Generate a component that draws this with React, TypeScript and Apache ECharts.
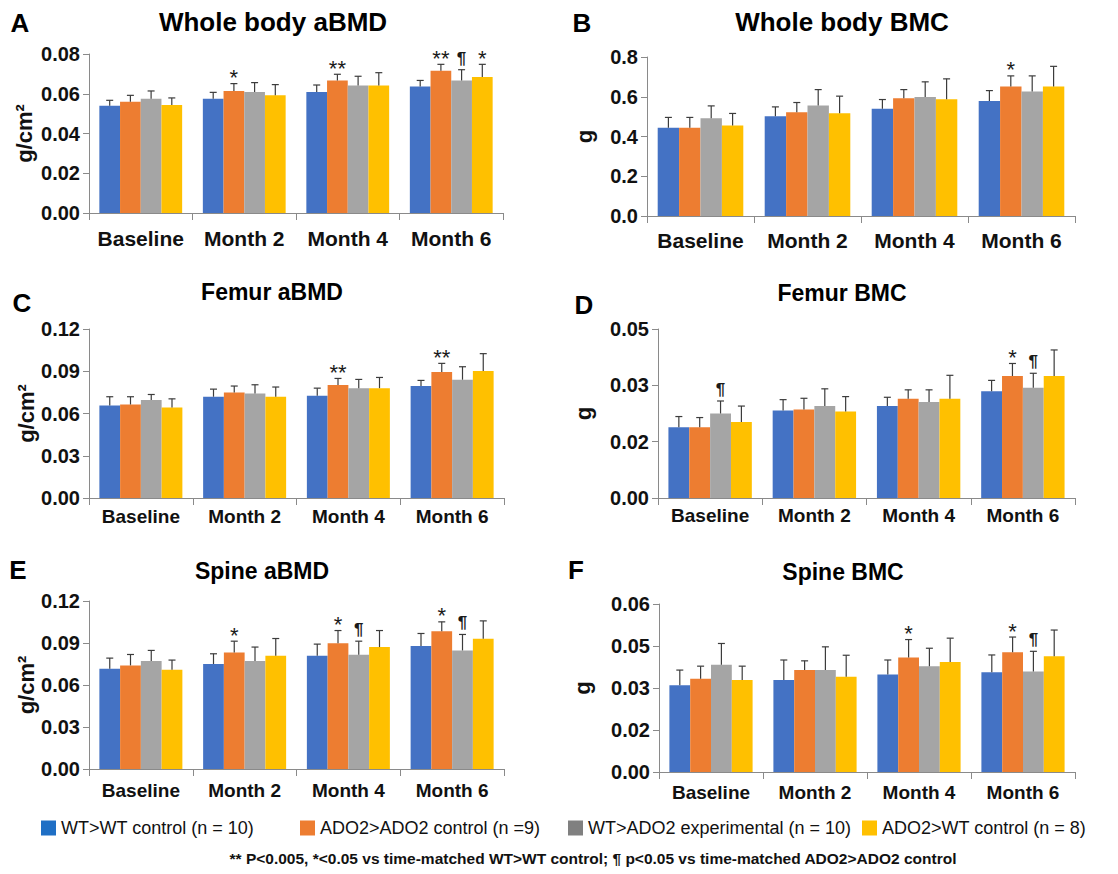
import React, { useEffect, useRef } from "react";
import * as echarts from "echarts";

const categories = ["Baseline", "Month 2", "Month 4", "Month 6"];
const groups = [
  "WT>WT control (n = 10)",
  "ADO2>ADO2 control (n =9)",
  "WT>ADO2 experimental (n = 10)",
  "ADO2>WT control (n = 8)",
];
const barColors = ["#4472C4", "#ED7D31", "#A5A5A5", "#FFC000"];
const legendColors = ["#1F6FC5", "#ED7D31", "#808080", "#FFC000"];

// A: Whole body aBMD (g/cm2)
const wbBmdMean = [
  [0.054, 0.0575, 0.0609, 0.0636],
  [0.056, 0.0614, 0.0667, 0.0716],
  [0.0575, 0.0609, 0.0641, 0.0667],
  [0.0543, 0.0592, 0.0641, 0.0684],
];
const wbBmdSd = [
  [0.0027, 0.0032, 0.0035, 0.0031],
  [0.0032, 0.0037, 0.0031, 0.0032],
  [0.0039, 0.0047, 0.0047, 0.0054],
  [0.0036, 0.0054, 0.0065, 0.0064],
];
const wbBmdSig = [
  ["", "", "", ""],
  ["", "*", "**", "**"],
  ["", "", "", "¶"],
  ["", "", "", "*"],
];

// B: Whole body BMC (g)
const wbBmcMean = [
  [0.444, 0.502, 0.539, 0.578],
  [0.444, 0.522, 0.593, 0.651],
  [0.492, 0.556, 0.599, 0.626],
  [0.455, 0.517, 0.588, 0.651],
];
const wbBmcSd = [
  [0.052, 0.047, 0.047, 0.053],
  [0.052, 0.049, 0.043, 0.054],
  [0.062, 0.08, 0.076, 0.079],
  [0.061, 0.086, 0.102, 0.102],
];
const wbBmcSig = [
  ["", "", "", ""],
  ["", "", "", "*"],
  ["", "", "", ""],
  ["", "", "", ""],
];

// C: Femur aBMD (g/cm2)
const femBmdMean = [
  [0.0657, 0.0719, 0.0726, 0.0795],
  [0.0664, 0.075, 0.0802, 0.0894],
  [0.0695, 0.0742, 0.078, 0.084],
  [0.0643, 0.0719, 0.078, 0.0901],
];
const femBmdSd = [
  [0.0062, 0.0054, 0.0054, 0.004],
  [0.0055, 0.0045, 0.0047, 0.0062],
  [0.004, 0.0062, 0.0062, 0.0092],
  [0.0061, 0.0069, 0.0076, 0.0124],
];
const femBmdSig = [
  ["", "", "", ""],
  ["", "", "**", "**"],
  ["", "", "", ""],
  ["", "", "", ""],
];

// D: Femur BMC (g)
const femBmcMean = [
  [0.0209, 0.0259, 0.0272, 0.0316],
  [0.0209, 0.0262, 0.0294, 0.0361],
  [0.025, 0.0272, 0.0284, 0.0326],
  [0.0225, 0.0256, 0.0294, 0.0361],
];
const femBmcSd = [
  [0.0032, 0.0032, 0.0026, 0.0032],
  [0.0029, 0.0033, 0.0026, 0.0037],
  [0.0037, 0.0051, 0.0036, 0.0043],
  [0.0047, 0.0044, 0.0069, 0.0077],
];
const femBmcSig = [
  ["", "", "", ""],
  ["", "", "", "*"],
  ["¶", "", "", "¶"],
  ["", "", "", ""],
];

// E: Spine aBMD (g/cm2)
const spBmdMean = [
  [0.0716, 0.075, 0.0809, 0.0878],
  [0.074, 0.0833, 0.0899, 0.0984],
  [0.0771, 0.0771, 0.0816, 0.0847],
  [0.0709, 0.0809, 0.0871, 0.093],
];
const spBmdSd = [
  [0.0076, 0.0073, 0.0083, 0.009],
  [0.0078, 0.008, 0.009, 0.0067],
  [0.0076, 0.01, 0.0097, 0.0114],
  [0.0069, 0.0123, 0.0118, 0.0128],
];
const spBmdSig = [
  ["", "", "", ""],
  ["", "*", "*", "*"],
  ["", "", "¶", "¶"],
  ["", "", "", ""],
];

// F: Spine BMC (g)
const spBmcMean = [
  [0.031, 0.0329, 0.0348, 0.0356],
  [0.0333, 0.0364, 0.0409, 0.0428],
  [0.0383, 0.0364, 0.0378, 0.0359],
  [0.0329, 0.034, 0.0393, 0.0413],
];
const spBmcSd = [
  [0.0054, 0.0071, 0.0052, 0.0062],
  [0.0045, 0.0033, 0.0064, 0.0054],
  [0.0076, 0.0083, 0.0064, 0.0072],
  [0.0049, 0.0077, 0.0085, 0.0094],
];
const spBmcSig = [
  ["", "", "", ""],
  ["", "", "*", "*"],
  ["", "", "", "¶"],
  ["", "", "", ""],
];

const footnote =
  "** P<0.005, *<0.05 vs time-matched WT>WT control; ¶ p<0.05 vs time-matched ADO2>ADO2 control";

const FONT = "Arial, 'Liberation Sans', Helvetica, sans-serif";

const panels = [
  {
    letter: "A", title: "Whole body aBMD", unit: "g/cm²",
    mean: wbBmdMean, sd: wbBmdSd, sig: wbBmdSig, max: 0.08, interval: 0.02, dec: 2,
    grid: { left: 89, top: 54, width: 414, height: 159 },
    titlePos: [273, 22, 26], letterPos: [20, 23], nameGap: 54, labelSize: 21, labelMargin: 15,
  },
  {
    letter: "B", title: "Whole body BMC", unit: "g",
    mean: wbBmcMean, sd: wbBmcSd, sig: wbBmcSig, max: 0.8, interval: 0.2, dec: 1,
    grid: { left: 647, top: 57, width: 428, height: 159 },
    titlePos: [842, 22, 26], letterPos: [582, 23], nameGap: 52, labelSize: 21, labelMargin: 14,
  },
  {
    letter: "C", title: "Femur aBMD", unit: "g/cm²",
    mean: femBmdMean, sd: femBmdSd, sig: femBmdSig, max: 0.12, interval: 0.03, dec: 2,
    grid: { left: 89, top: 329, width: 415, height: 169 },
    titlePos: [272, 292, 23], letterPos: [22, 303], nameGap: 51, labelSize: 19, labelMargin: 9,
  },
  {
    letter: "D", title: "Femur BMC", unit: "g",
    mean: femBmcMean, sd: femBmcSd, sig: femBmcSig, max: 0.05, interval: 0.05 / 3, dec: 2,
    grid: { left: 658, top: 329, width: 417, height: 169 },
    titlePos: [842, 293, 23], letterPos: [584, 305], nameGap: 64, labelSize: 19, labelMargin: 8,
  },
  {
    letter: "E", title: "Spine aBMD", unit: "g/cm²",
    mean: spBmdMean, sd: spBmdSd, sig: spBmdSig, max: 0.12, interval: 0.03, dec: 2,
    grid: { left: 89, top: 601, width: 415, height: 168 },
    titlePos: [262, 571, 23], letterPos: [18, 570], nameGap: 52, labelSize: 19, labelMargin: 12,
  },
  {
    letter: "F", title: "Spine BMC", unit: "g",
    mean: spBmcMean, sd: spBmcSd, sig: spBmcSig, max: 0.06, interval: 0.015, dec: 2,
    grid: { left: 659, top: 604, width: 416, height: 168 },
    titlePos: [843, 572, 23], letterPos: [576, 570], nameGap: 66, labelSize: 19, labelMargin: 11,
  },
];

const legendLeft = [41, 300, 568, 862];
const GAP = 0.2;

function fmt(v: number, dec: number) {
  const f = Math.pow(10, dec);
  return (Math.round(v * f + 1e-6) / f).toFixed(dec);
}

function buildOption() {
  const grids: any[] = [];
  const xAxes: any[] = [];
  const yAxes: any[] = [];
  const series: any[] = [];
  const graphics: any[] = [];

  panels.forEach((p, pi) => {
    grids.push({ ...p.grid, containLabel: false });
    xAxes.push({
      type: "category",
      gridIndex: pi,
      data: categories,
      axisLine: { show: true, lineStyle: { color: "#8a8a8a", width: 1 } },
      axisTick: { show: true, length: 7, alignWithLabel: false, interval: 0, lineStyle: { color: "#8a8a8a" } },
      axisLabel: {
        interval: 0,
        fontSize: p.labelSize,
        fontWeight: "bold",
        fontFamily: FONT,
        color: "#111",
        margin: p.labelMargin,
      },
    });
    yAxes.push({
      type: "value",
      gridIndex: pi,
      min: 0,
      max: p.max,
      interval: p.interval,
      name: p.unit,
      nameLocation: "middle",
      nameRotate: 90,
      nameGap: p.nameGap,
      nameTextStyle: { fontSize: 22, fontWeight: "bold", fontFamily: FONT, color: "#111" },
      axisLine: { show: true, lineStyle: { color: "#8a8a8a", width: 1 } },
      axisTick: { show: true, length: 6, lineStyle: { color: "#8a8a8a" } },
      splitLine: { show: false },
      axisLabel: {
        fontSize: 20,
        fontWeight: "bold",
        fontFamily: FONT,
        color: "#111",
        margin: 9,
        formatter: (v: number) => fmt(v, p.dec),
      },
    });

    p.mean.forEach((vals, gi) => {
      series.push({
        type: "bar",
        name: groups[gi],
        xAxisIndex: pi,
        yAxisIndex: pi,
        data: vals,
        barGap: "0%",
        barCategoryGap: GAP * 100 + "%",
        itemStyle: { color: barColors[gi] },
        emphasis: { disabled: true },
        z: 2,
      });
    });

    p.mean.forEach((vals, gi) => {
      const sds = p.sd[gi];
      const sigs = p.sig[gi];
      series.push({
        type: "custom",
        xAxisIndex: pi,
        yAxisIndex: pi,
        z: 5,
        silent: true,
        data: vals.map((m, ci) => [ci, m, sds[ci]]),
        renderItem: (params: any, api: any) => {
          const ci = api.value(0);
          const m = api.value(1);
          const s = api.value(2);
          const base = api.coord([ci, m]);
          const top = api.coord([ci, m + s]);
          const bw = (api.size([1, 0])[0] * (1 - GAP)) / 4;
          const x = base[0] + (gi - 1.5) * bw;
          const st = { stroke: "#3c3c3c", lineWidth: 1.2 };
          const children: any[] = [
            { type: "line", shape: { x1: x, y1: base[1], x2: x, y2: top[1] }, style: st },
            { type: "line", shape: { x1: x - 3.5, y1: top[1], x2: x + 3.5, y2: top[1] }, style: st },
          ];
          const t = sigs[params.dataIndex];
          if (t) {
            const isPil = t === "¶";
            children.push({
              type: "text",
              x,
              y: isPil ? top[1] - 3 : top[1] + 5,
              style: {
                text: t,
                font: isPil ? `bold 17px ${FONT}` : `22px ${FONT}`,
                fill: "#1a1a1a",
                align: "center",
                verticalAlign: "bottom",
              },
            });
          }
          return { type: "group", children };
        },
      });
    });

    graphics.push({
      type: "text",
      x: p.titlePos[0],
      y: p.titlePos[1],
      style: {
        text: p.title,
        font: `bold ${p.titlePos[2]}px ${FONT}`,
        fill: "#000",
        align: "center",
        verticalAlign: "middle",
      },
    });
    graphics.push({
      type: "text",
      x: p.letterPos[0],
      y: p.letterPos[1],
      style: {
        text: p.letter,
        font: `bold 26px ${FONT}`,
        fill: "#000",
        align: "center",
        verticalAlign: "middle",
      },
    });
  });

  graphics.push({
    type: "text",
    x: 593,
    y: 858,
    style: {
      text: footnote,
      font: `bold 15.5px ${FONT}`,
      fill: "#111",
      align: "center",
      verticalAlign: "middle",
    },
  });

  const legends = groups.map((name, i) => ({
    data: [{ name, itemStyle: { color: legendColors[i] } }],
    left: legendLeft[i],
    top: 819,
    icon: "rect",
    itemWidth: 15,
    itemHeight: 15,
    selectedMode: false,
    padding: 0,
    textStyle: { fontSize: 18, fontFamily: FONT, color: "#111" },
  }));

  return {
    animation: false,
    backgroundColor: "#fff",
    grid: grids,
    xAxis: xAxes,
    yAxis: yAxes,
    series,
    legend: legends,
    graphic: graphics,
  };
}

export default function App() {
  const ref = useRef<HTMLDivElement>(null);
  useEffect(() => {
    document.body.style.margin = "0";
    if (!ref.current) return;
    const chart = echarts.init(ref.current, undefined, { renderer: "svg" });
    chart.setOption(buildOption() as any);
    return () => chart.dispose();
  }, []);
  return <div ref={ref} style={{ width: 1118, height: 874 }} />;
}
